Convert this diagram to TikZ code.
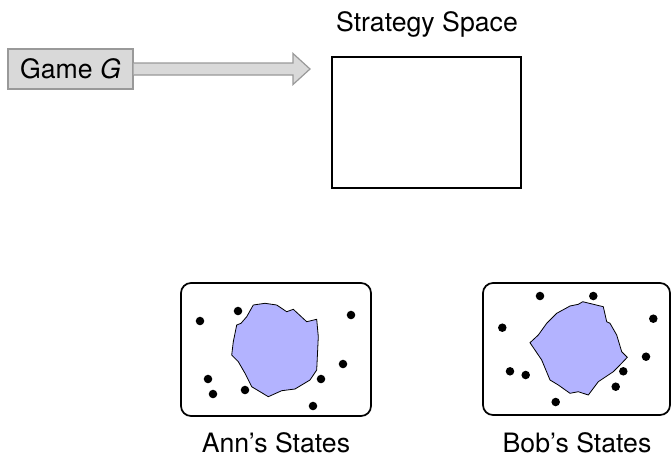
\documentclass[tikz,border=0pt]{standalone}
\usepackage{fontspec}
\setmainfont{TeX Gyre Heros}
\usetikzlibrary{calc}
\definecolor{boxgray}{HTML}{D9D9D9}
\definecolor{edgegray}{HTML}{999999}
\definecolor{blobblue}{HTML}{B3B3FF}
\begin{document}
\begin{tikzpicture}[x=0.75pt,y=-0.75pt,
  lbl/.style={font=\fontsize{20}{24}\selectfont, inner sep=0pt},
  gamebox/.style={draw=edgegray, fill=boxgray, line width=0.9pt, minimum width=93.75pt, minimum height=30pt, inner sep=0pt, font=\fontsize{20}{24}\selectfont},
  spacebox/.style={draw, line width=1.3pt, inner sep=0pt},
  statebox/.style={draw, line width=1.3pt, rounded corners=7.5pt, inner sep=0pt},
  blob/.style={draw, fill=blobblue, line width=0.6pt},
  dot/.style={fill=black, circle, inner sep=0pt, minimum size=6.4pt}]
\useasboundingbox (0,0) rectangle (671,458);
% Game box and arrow
\node[gamebox] (game) at (70.5,69) {Game \textit{G}};
\coordinate (tip) at (310,69);
\draw[edgegray, fill=boxgray, line width=0.9pt]
  ($(game.east)+(0,-6)$) -- ($(tip)+(-17,-6)$) -- ($(tip)+(-17,-15.5)$) -- (tip)
  -- ($(tip)+(-17,15.5)$) -- ($(tip)+(-17,6)$) -- ($(game.east)+(0,6)$);
% Strategy space
\node[spacebox, minimum width=141.75pt, minimum height=98.25pt] (space) at (426.5,122.5) {};
\node[lbl] (spacelbl) at (427,24) {Strategy Space};
% Ann
\node[statebox, minimum width=142.5pt, minimum height=99.75pt] (ann) at (276,349.5) {};
\node[lbl] (annlbl) at (276,443) {Ann’s States};
\draw[blob] (241,323.3) -- (246.7,316.7) -- (253.3,305) -- (265,303.3) -- (276.7,305)
  -- (286.7,311.7) -- (293.3,309.3) -- (306.7,321.7) -- (316.7,319.3) -- (318.3,336.7)
  -- (316.7,370) -- (310,380) -- (295,389) -- (281.7,390.7) -- (268.3,396.7)
  -- (251.7,386.7) -- (245,373.3) -- (238.3,361.7) -- (231.7,355) -- (233.3,341.7)
  -- (236.7,325) -- cycle;
\foreach \p [count=\i] in {(200,321),(238,311),(351,315),(343,364),(321,379),(208,379),(213,394),(245,390),(313,406)}
  \node[dot] (a\i) at \p {};
% Bob
\node[statebox, minimum width=140.25pt, minimum height=99pt] (bob) at (576.5,349) {};
\node[lbl] (boblbl) at (577,443) {Bob’s States};
\draw[blob] (530,342.7) -- (538.3,335) -- (546.7,323.3) -- (556.7,313.3) -- (570,306)
  -- (578.3,304.3) -- (582.7,301.7) -- (603.3,306.7) -- (606.7,321.7) -- (610,323.3)
  -- (616.7,335) -- (621.7,351.7) -- (627.3,357.3) -- (618.3,366.7) -- (613.3,371.7)
  -- (598.3,381.7) -- (588.3,395) -- (578.3,391.7) -- (570,393.3) -- (558.3,385)
  -- (550,380) -- (541.7,360) -- cycle;
\foreach \p [count=\i] in {(540,296),(593.3,296),(653.3,318.7),(502.3,327.7),(646,356.7),(510,371.3),(525.7,375),(623.3,371.3),(615.7,386.7),(555.7,402)}
  \node[dot] (b\i) at \p {};
\end{tikzpicture}
\end{document}
